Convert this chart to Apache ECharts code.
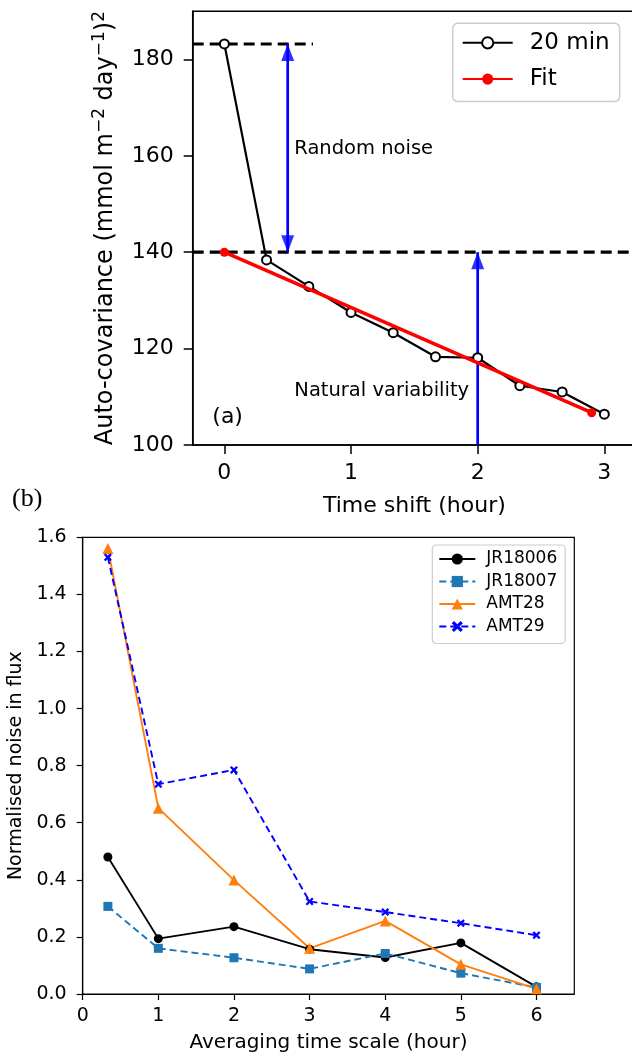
<!DOCTYPE html>
<html>
<head>
<meta charset="utf-8">
<script src="https://cdn.jsdelivr.net/npm/echarts@6/dist/echarts.min.js"></script>
<style>
    html, body { margin: 0; padding: 0; background: #fff; }
    #main { width: 632px; height: 1056px; }
</style>
</head>
<body>
<div id="main"></div>
<script>
    // (a) auto-covariance vs time shift
    const shiftHours = [0, 0.333, 0.667, 1, 1.333, 1.667, 2, 2.333, 2.667, 3];
    const autoCov20 = [183.2, 138.4, 132.9, 127.5, 123.3, 118.3, 118.1, 112.3, 111.0, 106.4];
    const fitHours = [0, 2.9];
    const fitCov = [140, 106.7];
    const noiseTop = 183.2;   // lag-0 value
    const noiseBase = 140;    // fit intercept
    const noiseArrowX = 0.5;
    const naturalArrowX = 2;
    const topTicksX = [0, 1, 2, 3];
    const topTicksY = [100, 120, 140, 160, 180];

    // (b) normalised noise vs averaging time scale
    const scaleHours = [0.333, 1, 2, 3, 4, 5, 6];
    const jr18006 = [0.480, 0.194, 0.236, 0.157, 0.128, 0.179, 0.025];
    const jr18007 = [0.307, 0.160, 0.127, 0.088, 0.142, 0.073, 0.023];
    const amt28 = [1.561, 0.651, 0.399, 0.160, 0.256, 0.104, 0.018];
    const amt29 = [1.530, 0.735, 0.785, 0.324, 0.287, 0.248, 0.206];
    const bottomTicksX = [0, 1, 2, 3, 4, 5, 6];

    const FONT = 'DejaVu Sans';

    function pairs(xs, ys) {
        return xs.map(function (x, i) { return [x, ys[i]]; });
    }

    let myChart = echarts.init(document.getElementById('main'));
    let crossPath = 'path://M2,0 L5,3 L8,0 L10,2 L7,5 L10,8 L8,10 L5,7 L2,10 L0,8 L3,5 L0,2 Z';

    // 箭头杆
    function shaft(data) {
        return {
            type: 'line', xAxisIndex: 0, yAxisIndex: 0, data: data,
            showSymbol: false, silent: true, z: 2,
            lineStyle: { color: '#0000ff', width: 2.7 }
        };
    }

    let option = {
        animation: false,
        backgroundColor: '#fff',
        textStyle: { fontFamily: FONT, color: '#000' },
        grid: [
            { left: 192.7, top: 11.2, width: 443.3, height: 433.8, outerBoundsMode: 'none',
              show: true, borderColor: '#000', borderWidth: 1.5 },
            { left: 82.7, top: 537.3, width: 491.6, height: 456.7, outerBoundsMode: 'none',
              show: true, borderColor: '#000', borderWidth: 1.2 }
        ],
        xAxis: [{
            gridIndex: 0, type: 'value', min: -0.25, max: 3.25,
            name: 'Time shift (hour)', nameLocation: 'middle', nameGap: 50,
            nameTextStyle: { fontSize: 22, color: '#000', fontFamily: FONT },
            axisLine: { onZero: false, lineStyle: { color: '#000', width: 1.5 } },
            axisTick: { customValues: topTicksX, length: 9, lineStyle: { color: '#000', width: 1.5 } },
            axisLabel: { customValues: topTicksX, fontSize: 22, color: '#000', margin: 17, fontFamily: FONT },
            splitLine: { show: false }
        }, {
            gridIndex: 1, type: 'value', min: 0, max: 6.5,
            name: 'Averaging time scale (hour)', nameLocation: 'middle', nameGap: 39,
            nameTextStyle: { fontSize: 20, color: '#000', fontFamily: FONT },
            axisLine: { onZero: false, lineStyle: { color: '#000', width: 1.2 } },
            axisTick: { customValues: bottomTicksX, length: 6, lineStyle: { color: '#000', width: 1.2 } },
            axisLabel: { customValues: bottomTicksX, fontSize: 19, color: '#000', margin: 13, fontFamily: FONT },
            splitLine: { show: false }
        }],
        yAxis: [{
            gridIndex: 0, type: 'value', min: 100, max: 190,
            name: 'Auto-covariance (mmol m{sup|\u22122} day{sup|\u22121}){sup|2}',
            nameLocation: 'middle', nameGap: 71,
            nameTextStyle: {
                fontSize: 24, lineHeight: 30, color: '#000', fontFamily: FONT,
                rich: { sup: { fontSize: 17, lineHeight: 15, verticalAlign: 'top', color: '#000', fontFamily: FONT } }
            },
            axisLine: { onZero: false, lineStyle: { color: '#000', width: 1.5 } },
            axisTick: { customValues: topTicksY, length: 9, lineStyle: { color: '#000', width: 1.5 } },
            axisLabel: { customValues: topTicksY, fontSize: 22, color: '#000', margin: 19, fontFamily: FONT },
            splitLine: { show: false }
        }, {
            gridIndex: 1, type: 'value', min: 0, max: 1.6, interval: 0.2,
            name: 'Normalised noise in flux', nameLocation: 'middle', nameGap: 56,
            nameTextStyle: { fontSize: 19, color: '#000', fontFamily: FONT },
            axisLine: { onZero: false, lineStyle: { color: '#000', width: 1.2 } },
            axisTick: { length: 6, lineStyle: { color: '#000', width: 1.2 } },
            axisLabel: {
                fontSize: 19, color: '#000', margin: 16, fontFamily: FONT,
                formatter: function (v) { return v.toFixed(1); }
            },
            splitLine: { show: false }
        }],
        legend: [{
            data: ['20 min', 'Fit'],
            orient: 'vertical', left: 452.7, top: 23.3,
            padding: [6, 10, 9, 9], itemGap: 9.3,
            itemWidth: 50, itemHeight: 14,
            backgroundColor: '#fff', borderColor: '#ccc', borderWidth: 1.5, borderRadius: 5,
            textStyle: { fontSize: 23, lineHeight: 27, color: '#000', fontFamily: FONT, padding: [0, 0, 0, 12] }
        }, {
            data: ['JR18006', 'JR18007', 'AMT28', 'AMT29'],
            orient: 'vertical', left: 432.3, top: 545,
            padding: [4, 8, 7, 6], itemGap: 2.5,
            itemWidth: 36, itemHeight: 14,
            backgroundColor: '#fff', borderColor: '#ccc', borderWidth: 1.2, borderRadius: 4,
            textStyle: { fontSize: 17, lineHeight: 20, color: '#000', fontFamily: FONT, padding: [0, 0, 0, 6] }
        }],
        series: [
            {
                name: 'noise level', type: 'line', xAxisIndex: 0, yAxisIndex: 0,
                data: [[-0.25, noiseTop], [0.7, noiseTop]], showSymbol: false, silent: true,
                lineStyle: { color: '#000', width: 3.2, type: [11, 6] }, z: 1
            },
            {
                name: 'intercept', type: 'line', xAxisIndex: 0, yAxisIndex: 0,
                data: [[-0.25, noiseBase], [3.25, noiseBase]], showSymbol: false, silent: true,
                lineStyle: { color: '#000', width: 3.2, type: [11, 6] }, z: 1
            },
            shaft([[noiseArrowX, noiseBase], [noiseArrowX, noiseTop]]),
            shaft([[naturalArrowX, 100], [naturalArrowX, noiseBase]]),
            {
                // 向上箭头 (tip sits on the point)
                type: 'scatter', xAxisIndex: 0, yAxisIndex: 0, silent: true, z: 3,
                data: [[noiseArrowX, noiseTop], [naturalArrowX, noiseBase]],
                symbol: 'triangle', symbolSize: [13, 17], symbolOffset: [0, 8.5],
                itemStyle: { color: '#0000ff' }
            },
            {
                // 向下箭头
                type: 'scatter', xAxisIndex: 0, yAxisIndex: 0, silent: true, z: 3,
                data: [[noiseArrowX, noiseBase]],
                symbol: 'triangle', symbolSize: [13, 17], symbolRotate: 180, symbolOffset: [0, -8.5],
                itemStyle: { color: '#0000ff' }
            },
            {
                name: '20 min', type: 'line', xAxisIndex: 0, yAxisIndex: 0,
                data: pairs(shiftHours, autoCov20),
                symbol: 'emptyCircle', symbolSize: 9, color: '#000',
                itemStyle: { color: '#000', borderColor: '#000', borderWidth: 2 },
                lineStyle: { color: '#000', width: 2.2 }, z: 4
            },
            {
                name: 'Fit', type: 'line', xAxisIndex: 0, yAxisIndex: 0,
                data: pairs(fitHours, fitCov),
                symbol: 'circle', symbolSize: 9, color: '#ff0000',
                lineStyle: { color: '#ff0000', width: 3.5 }, z: 5
            },
            {
                name: 'JR18006', type: 'line', xAxisIndex: 1, yAxisIndex: 1,
                data: pairs(scaleHours, jr18006),
                symbol: 'circle', symbolSize: 9, color: '#000',
                lineStyle: { color: '#000', width: 1.9 }
            },
            {
                name: 'JR18007', type: 'line', xAxisIndex: 1, yAxisIndex: 1,
                data: pairs(scaleHours, jr18007),
                symbol: 'rect', symbolSize: 9, color: '#1f77b4',
                lineStyle: { color: '#1f77b4', width: 1.9, type: [7, 4] }
            },
            {
                name: 'AMT28', type: 'line', xAxisIndex: 1, yAxisIndex: 1,
                data: pairs(scaleHours, amt28),
                symbol: 'triangle', symbolSize: 11, color: '#ff7f0e',
                lineStyle: { color: '#ff7f0e', width: 1.9 }
            },
            {
                name: 'AMT29', type: 'line', xAxisIndex: 1, yAxisIndex: 1,
                data: pairs(scaleHours, amt29),
                symbol: crossPath, symbolSize: 8, color: '#0000ff',
                lineStyle: { color: '#0000ff', width: 1.9, type: [7, 4] }
            }
        ],
        graphic: [
            { type: 'text', left: 294.3, top: 139, style: { text: 'Random noise', font: '19.5px "DejaVu Sans"', fill: '#000' } },
            { type: 'text', left: 294.3, top: 381, style: { text: 'Natural variability', font: '19.5px "DejaVu Sans"', fill: '#000' } },
            { type: 'text', left: 212.3, top: 406, style: { text: '(a)', font: '22px "DejaVu Sans"', fill: '#000' } },
            { type: 'text', left: 12, top: 486, style: { text: '(b)', font: '26px "Liberation Serif"', fill: '#000' } }
        ]
    };

    myChart.setOption(option);
</script>
</body>
</html>
